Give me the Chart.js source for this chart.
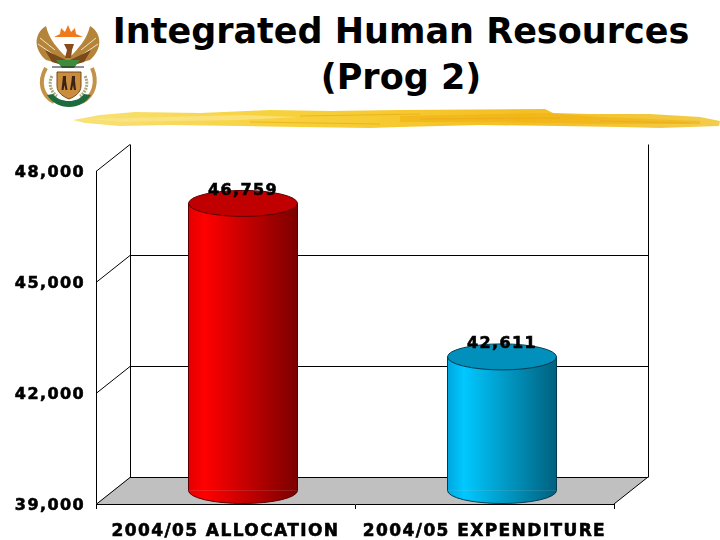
<!DOCTYPE html>
<html>
<head>
<meta charset="utf-8">
<title>Integrated Human Resources (Prog 2)</title>
<script src="https://cdn.jsdelivr.net/npm/chart.js@4"></script>
<style>
  html, body { margin: 0; padding: 0; background: #fff; }
  #wrap { position: relative; width: 720px; height: 540px; overflow: hidden; }
  #wrap canvas { position: absolute; left: 0; top: 0; }
  #art { position: absolute; left: 0; top: 0; }
  #title {
    position: absolute; left: 81px; top: 8px; width: 640px; text-align: center;
    font: bold 35px/46px "DejaVu Sans", sans-serif; color: #000;
  }
</style>
</head>
<body>
<div id="wrap">
  <svg id="art" width="720" height="140" viewBox="0 0 720 140">
    <defs>
      <linearGradient id="brush" x1="0" x2="1" y1="0" y2="0">
        <stop offset="0" stop-color="#f8e27a"/>
        <stop offset="0.3" stop-color="#f7d23e"/>
        <stop offset="0.7" stop-color="#f5bf22"/>
        <stop offset="1" stop-color="#f2cc4c"/>
      </linearGradient>
      <filter id="soft"><feGaussianBlur stdDeviation="0.5"/></filter>
    </defs>
    <!-- brush stroke under the title -->
    <g filter="url(#soft)">
      <path fill="url(#brush)" d="M73 120 L100 115 L135 112 L200 113 L270 110 L330 111 L400 110 L545 109 L553 113 L590 114 L625 114 L650 114 L700 117 L720 121 L719 126 L660 128 L620 127 L560 126 L480 125 L400 127 L370 128 L300 127 L240 126 L170 125 L120 126 L85 123 Z"/>
      <path fill="#eeae12" opacity=".55" d="M400 116 L545 113 L600 117 L700 121 L700 124 L600 124 L500 122 L400 122 Z"/>
      <path fill="#fbe68c" opacity=".7" d="M90 119 L240 115 L300 117 L240 120 L120 122 Z"/>
      <path fill="none" stroke="#e8ab14" stroke-width="1" opacity=".7" d="M300 116 L420 114 M250 122 L380 124 M420 119 L560 118 M600 121 L690 123"/>
    </g>
    <!-- coat of arms -->
    <g filter="url(#soft)">
      <path fill="#b5843a" d="M46 60 C34 50 33 34 46 26 C49 38 54 44 63 54 L70 60 L60 64 Z"/>
      <path fill="#b5843a" d="M90 60 C102 50 103 34 90 26 C87 38 82 44 73 54 L66 60 L76 64 Z"/>
      <path fill="none" stroke="#f3e6c4" stroke-width="1" d="M40 38 L55 50 M38 44 L54 55 M96 38 L81 50 M98 44 L82 55"/>
      <path fill="#7a4a1c" d="M45 50 L68 61 L66 66 L52 62 Z"/>
      <path fill="#7a4a1c" d="M91 50 L68 61 L70 66 L84 62 Z"/>
      <path fill="#ee7a1c" d="M54 37 L60 34 L61 28 L65 32 L68 25 L71 32 L75 28 L76 34 L83 37 Z"/>
      <path fill="#8a4c1e" d="M64 44 L74 44 L72 50 L71 58 L65 58 L67 50 Z"/>
      <path fill="#3f8a3a" d="M56 60 L80 60 L74 68 L62 68 Z"/>
      <path fill="none" stroke="#c2924c" stroke-width="4" d="M46 68 C38 82 42 96 54 102"/>
      <path fill="none" stroke="#c2924c" stroke-width="4" d="M92 68 C98 82 94 96 82 102"/>
      <path fill="none" stroke="#222" stroke-width="1" d="M52 67 L84 67"/>
      <path fill="none" stroke="#a9a77a" stroke-width="3" stroke-dasharray="2 1" d="M52 76 C48 84 51 92 57 96"/>
      <path fill="none" stroke="#a9a77a" stroke-width="3" stroke-dasharray="2 1" d="M85 76 C89 84 86 92 80 96"/>
      <path fill="#c98d3c" stroke="#7a4a1c" stroke-width="1" d="M57 72 L81 72 L81 86 C81 93 74 97 69 99 C64 97 57 93 57 86 Z"/>
      <path fill="#3a2412" d="M63 76 h3 v5 l1.500 9 h-2 l-1 -5 l-1 5 h-2 l1 -9 Z M72 76 h3 v5 l1 9 h-2 l-1 -5 l-1 5 h-2 l1.500 -9 Z"/>
      <path fill="#1f6a3c" d="M47 95 C52 103 60 107 69 107 C78 107 86 103 91 95 L84 94 C80 99 75 101 69 101 C63 101 57 99 53 94 Z"/>
    </g>
  </svg>
  <div id="title">Integrated Human Resources<br>(Prog 2)</div>
  <canvas id="resources" width="720" height="540"></canvas>
</div>

<script>
const categories = ['2004/05 ALLOCATION', '2004/05 EXPENDITURE'];
const spending = [46759, 42611];
const yTicks = [39000, 42000, 45000, 48000];

const barLook = [
  { left: '#e40000', bright: '#ff0000', right: '#7c0000', top: '#c00000', edge: '#5a0000' },
  { left: '#00a6de', bright: '#00c8ff', right: '#00617f', top: '#0090bb', edge: '#003c50' }
];

const barWidth = 109;
const depthX = 34;
const depthY = 27;
const capHeight = 13;
const labelFont = 'bold 16px "DejaVu Sans", sans-serif';
const textWeight = 0.6;

function barGradient(context) {
  const i = context.dataIndex;
  if (i === undefined) return barLook[0].bright;
  const look = barLook[i];
  const x = context.chart.scales.x.getPixelForValue(i);
  // the scale has no pixels yet on the first pass through the options
  if (!Number.isFinite(x)) return look.bright;
  const g = context.chart.ctx.createLinearGradient(x - barWidth / 2, 0, x + barWidth / 2, 0);
  g.addColorStop(0, look.left);
  g.addColorStop(0.15, look.bright);
  g.addColorStop(1, look.right);
  return g;
}

const cylinderPlugin = {
  id: 'cylinder',
  beforeDraw(chart) {
    chart.ctx.letterSpacing = '1.4px';
  },
  beforeDatasetsDraw(chart) {
    const { ctx, chartArea: area, scales: { y } } = chart;

    // floor
    ctx.save();
    ctx.fillStyle = '#c0c0c0';
    ctx.strokeStyle = '#000';
    ctx.lineWidth = 1;
    ctx.beginPath();
    ctx.moveTo(area.left, area.bottom);
    ctx.lineTo(area.left + depthX, area.bottom - depthY);
    ctx.lineTo(area.right + depthX, area.bottom - depthY);
    ctx.lineTo(area.right, area.bottom);
    ctx.closePath();
    ctx.fill();

    // back wall, its grid lines and the slanted lines to the front axis
    ctx.beginPath();
    yTicks.forEach(v => {
      const py = Math.round(y.getPixelForValue(v)) + 0.5;
      ctx.moveTo(area.left, py);
      ctx.lineTo(area.left + depthX, py - depthY);
      if (v !== yTicks[yTicks.length - 1]) ctx.lineTo(area.right + depthX, py - depthY);
    });
    const wallTop = Math.round(y.getPixelForValue(48000)) + 0.5 - depthY;
    const wallBottom = Math.round(y.getPixelForValue(39000)) + 0.5 - depthY;
    ctx.moveTo(area.left + depthX + 0.5, wallTop);
    ctx.lineTo(area.left + depthX + 0.5, wallBottom);
    ctx.moveTo(area.right + depthX + 0.5, wallTop);
    ctx.lineTo(area.right + depthX + 0.5, wallBottom);
    ctx.moveTo(area.right, area.bottom);
    ctx.lineTo(area.right + depthX, area.bottom - depthY);
    ctx.stroke();
    ctx.restore();

    // bars stand halfway back on the floor
    ctx.save();
    ctx.translate(depthX / 2 + 0.5, -depthY / 2);
  },
  afterDatasetsDraw(chart) {
    const { ctx } = chart;
    const bars = chart.getDatasetMeta(0).data;
    bars.forEach((bar, i) => {
      const left = bar.x - barWidth / 2;
      const right = bar.x + barWidth / 2;
      ctx.strokeStyle = barLook[i].edge;
      ctx.lineWidth = 1;

      // round bottom, with a bit of overlap to hide the seam with the bar
      ctx.fillStyle = bar.options.backgroundColor;
      ctx.fillRect(left, bar.base - 2, barWidth, 2);
      ctx.beginPath();
      ctx.ellipse(bar.x, bar.base, barWidth / 2, capHeight, 0, 0, Math.PI);
      ctx.fill();
      ctx.stroke();

      ctx.beginPath();
      ctx.moveTo(left, bar.y);
      ctx.lineTo(left, bar.base);
      ctx.moveTo(right, bar.y);
      ctx.lineTo(right, bar.base);
      ctx.stroke();

      ctx.fillStyle = barLook[i].top;
      ctx.beginPath();
      ctx.ellipse(bar.x, bar.y, barWidth / 2, capHeight, 0, 0, Math.PI * 2);
      ctx.fill();
      ctx.stroke();
    });
    // value labels
    ctx.font = labelFont;
    ctx.fillStyle = '#000';
    ctx.strokeStyle = '#000';
    ctx.lineWidth = textWeight;
    ctx.textAlign = 'center';
    ctx.textBaseline = 'middle';
    bars.forEach((bar, i) => {
      const text = spending[i].toLocaleString('en-US');
      ctx.strokeText(text, bar.x, bar.y - 13);
      ctx.fillText(text, bar.x, bar.y - 13);
    });
    ctx.restore();
  }
};

new Chart(document.getElementById('resources'), {
  type: 'bar',
  data: {
    labels: categories,
    datasets: [{
      data: spending,
      base: yTicks[0],
      barThickness: barWidth,
      borderWidth: 0,
      backgroundColor: barGradient
    }]
  },
  options: {
    responsive: false,
    animation: false,
    layout: { padding: { top: 171, right: 106, left: 0, bottom: 0 } },
    plugins: { legend: { display: false }, title: { display: false }, tooltip: { enabled: false } },
    scales: {
      x: {
        afterFit: scale => { scale.height = 36; },
        border: { color: '#000' },
        grid: { color: '#000', drawOnChartArea: false, tickLength: 5, offset: true },
        ticks: {
          color: '#000',
          font: { family: '"DejaVu Sans"', weight: 'bold', size: 17 },
          textStrokeColor: '#000',
          textStrokeWidth: textWeight,
          padding: 12,
          maxRotation: 0,
          autoSkip: false
        }
      },
      y: {
        min: 39000,
        max: 48000,
        afterFit: scale => { scale.width = 96; },
        afterBuildTicks: scale => { scale.ticks = yTicks.map(value => ({ value })); },
        border: { color: '#000' },
        grid: { display: false, drawTicks: false },
        ticks: {
          color: '#000',
          font: { family: '"DejaVu Sans"', weight: 'bold', size: 16 },
          textStrokeColor: '#000',
          textStrokeWidth: textWeight,
          padding: 11,
          labelOffset: 2,
          callback: value => value.toLocaleString('en-US')
        }
      }
    }
  },
  plugins: [cylinderPlugin]
});
</script>
</body>
</html>
